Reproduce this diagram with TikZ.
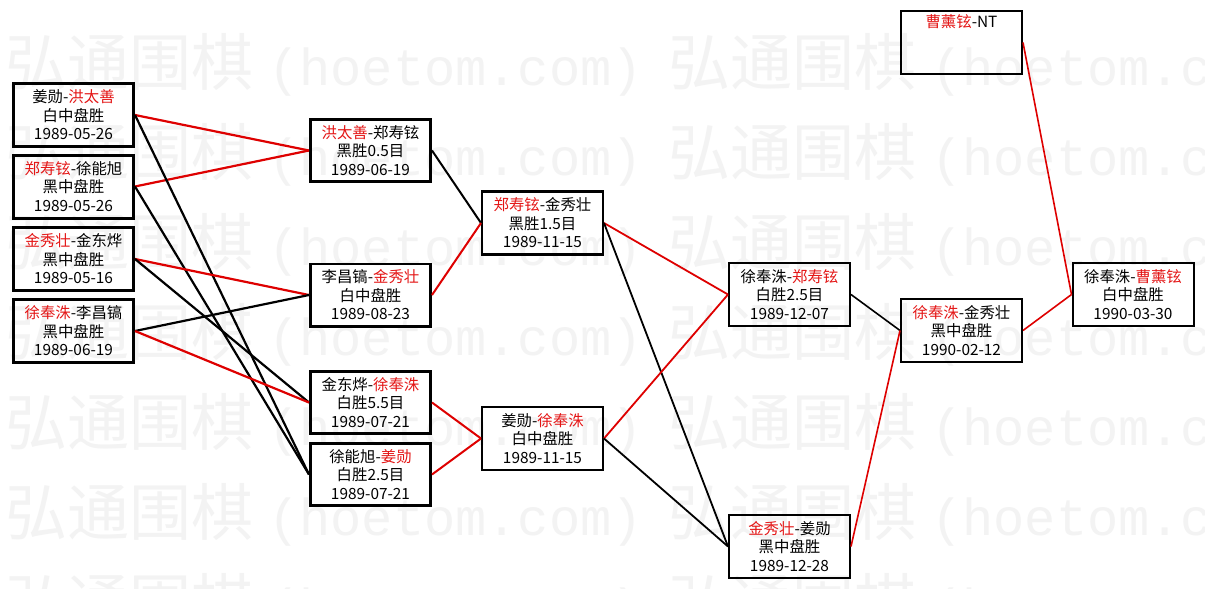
\documentclass[tikz,border=0pt]{standalone}
\usepackage{fontspec}
\setmainfont{Noto Sans CJK SC}
\newfontfamily\wmmono{Liberation Mono}
\definecolor{wred}{RGB}{222,0,0}
\definecolor{tred}{RGB}{228,22,22}
\definecolor{wm}{RGB}{243,243,243}
\newcommand{\rd}[1]{\textcolor{tred}{#1}}
\begin{document}
\begin{tikzpicture}[x=1pt,y=-1pt,
  game/.style={draw=black, align=center, inner sep=0pt,
    font=\fontsize{15.4}{18.5}\selectfont},
  gA/.style={game, line width=3pt, minimum width=120pt, minimum height=63pt},
  gB/.style={game, line width=2.6pt, minimum width=120.4pt, minimum height=62.4pt},
  gC/.style={game, line width=2.4pt, minimum width=120.6pt, minimum height=63pt},
  gD/.style={game, line width=2pt, minimum width=121pt, minimum height=63pt},
  rA/.style={draw=wred, line width=2.2pt},
  bA/.style={draw=black, line width=2.2pt},
  rB/.style={draw=wred, line width=2pt},
  bB/.style={draw=black, line width=2pt},
  rC/.style={draw=wred, line width=1.8pt},
  bC/.style={draw=black, line width=1.8pt},
  rD/.style={draw=wred, line width=1.6pt},
  bD/.style={draw=black, line width=1.6pt},
  wmcjk/.style={text=wm, inner sep=0pt, font=\fontsize{62}{62}\selectfont},
  wmlat/.style={text=wm, inner sep=0pt, font=\wmmono\fontsize{52}{52}\selectfont}
]
\useasboundingbox (0,0) rectangle (1205,589);
\fill[white] (0,0) rectangle (1205,589);
\begin{scope}
\clip (0,0) rectangle (1205,589);
\foreach \yy in {85,175,...,625} {
  \foreach \xx in {5,668} {
    \node[wmcjk, anchor=base west] (wma-\yy-\xx) at (\xx,\yy) {弘通围棋};
    \node[wmlat, anchor=base west] (wmb-\yy-\xx) at (\xx+263,\yy) {(hoetom.com)};
  }
}
\end{scope}

% column 1
\node[gA] (a1) at (73.5,115) {姜勋-\rd{洪太善}\\白中盘胜\\1989-05-26};
\node[gA] (a2) at (73.5,186.5) {\rd{郑寿铉}-徐能旭\\黑中盘胜\\1989-05-26};
\node[gA] (a3) at (73.5,259) {\rd{金秀壮}-金东烨\\黑中盘胜\\1989-05-16};
\node[gA] (a4) at (73.5,331) {\rd{徐奉洙}-李昌镐\\黑中盘胜\\1989-06-19};
% column 2
\node[gB] (b1) at (370.5,150.5) {\rd{洪太善}-郑寿铉\\黑胜0.5目\\1989-06-19};
\node[gB] (b2) at (370.5,295) {李昌镐-\rd{金秀壮}\\白中盘胜\\1989-08-23};
\node[gB] (b3) at (370.5,402.5) {金东烨-\rd{徐奉洙}\\白胜5.5目\\1989-07-21};
\node[gB] (b4) at (370.5,474.5) {徐能旭-\rd{姜勋}\\白胜2.5目\\1989-07-21};
% column 3
\node[gC] (c1) at (542.5,223) {\rd{郑寿铉}-金秀壮\\黑胜1.5目\\1989-11-15};
\node[gC] (c2) at (542.5,438.5) {姜勋-\rd{徐奉洙}\\白中盘胜\\1989-11-15};
% column 4
\node[gD] (d1) at (789.5,294.5) {徐奉洙-\rd{郑寿铉}\\白胜2.5目\\1989-12-07};
\node[gD] (d2) at (789.5,546.5) {\rd{金秀壮}-姜勋\\黑中盘胜\\1989-12-28};
% column 5
\node[gD] (e1) at (961.5,330.5) {\rd{徐奉洙}-金秀壮\\黑中盘胜\\1990-02-12};
\node[gD] (nt) at (961.5,42.5) {\rd{曹薰铉}-NT\\\strut\\\strut};
% column 6
\node[gD] (f1) at (1133,294.5) {徐奉洙-\rd{曹薰铉}\\白中盘胜\\1990-03-30};

% connectors col1 -> col2
\draw[rA] (a1.east) -- (b1.west);
\draw[rA] (a2.east) -- (b1.west);
\draw[bA] (a1.east) -- (b4.west);
\draw[bA] (a2.east) -- (b4.west);
\draw[rA] (a3.east) -- (b2.west);
\draw[bA] (a4.east) -- (b2.west);
\draw[bA] (a3.east) -- (b3.west);
\draw[rA] (a4.east) -- (b3.west);
% col2 -> col3
\draw[bB] (b1.east) -- (c1.west);
\draw[rB] (b2.east) -- (c1.west);
\draw[rB] (b3.east) -- (c2.west);
\draw[rB] (b4.east) -- (c2.west);
% col3 -> col4
\draw[rC] (c1.east) -- (d1.west);
\draw[bC] (c1.east) -- (d2.west);
\draw[rC] (c2.east) -- (d1.west);
\draw[bC] (c2.east) -- (d2.west);
% col4 -> col5 -> col6
\draw[bD] (d1.east) -- (e1.west);
\draw[rD] (d2.east) -- (e1.west);
\draw[rD] (e1.east) -- (f1.west);
\draw[rD] (nt.east) -- (f1.west);
\end{tikzpicture}
\end{document}
